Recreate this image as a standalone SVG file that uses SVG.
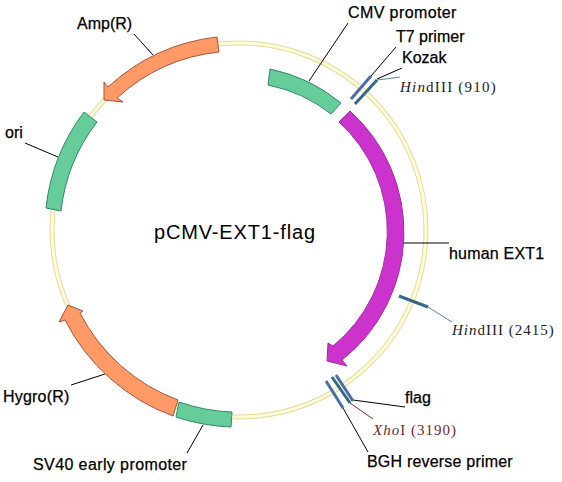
<svg xmlns="http://www.w3.org/2000/svg" width="562" height="482" viewBox="0 0 562 482">
<style>
.lab{font-family:"Liberation Sans",Arial,sans-serif;font-size:16px;fill:#000;stroke:#000;stroke-width:0.25}
.site{font-family:"Liberation Serif","Times New Roman",serif;font-size:15px}
.green{fill:#66cc99;stroke:#2f8a6c;stroke-width:1}
.orange{fill:#ff9966;stroke:#a3553f;stroke-width:1}
.lead{stroke:#000;stroke-width:1;fill:none}
.blue{stroke:#4a6ea8;stroke-width:3;fill:none}
.teal{stroke:#37688a;stroke-width:3;fill:none}
</style>
<rect width="562" height="482" fill="#fff"/>
<g id="backbone"><circle cx="239" cy="230" r="187" fill="none" stroke="#e2dc9c" stroke-width="5"/><circle cx="239" cy="230" r="187" fill="none" stroke="#fdfbd8" stroke-width="3"/></g>
<g id="connectors">
<path class="lead" d="M348 23L309 81M134 34L153 55M25 143L58 157M71 385L105 374M187 453L203 425M403 243H449M371 76L396 47M377 79L402 68M353 400L405 407M343 408L368 452"/>
<path d="M377 80Q387 79 400 77M428 307L452 322" fill="none" stroke="#4f8a9c" stroke-width="1"/>
<path d="M350 403L373 419" fill="none" stroke="#703030" stroke-width="1"/>
</g>
<g id="cmv-promoter"><path class="green" d="M270 69A164 164 0 0 1 341 103L331 114A148 148 0 0 0 268 85Z"/><text class="lab" x="348" y="18" letter-spacing="0.4">CMV promoter</text></g>
<g id="human-ext1"><path d="M350 111A163 163 0 0 1 342 360L347 366L327 361L328 343L333 346A148 148 0 0 0 339 122Z" fill="#cc33cc" stroke="#a52aa5" stroke-width="1"/><text class="lab" x="449" y="259" letter-spacing="0.2">human EXT1</text></g>
<g id="amp-r"><path class="orange" d="M217 37L219 52A179 179 0 0 0 117 98L123 102L104 100L104 82L108 87A194 194 0 0 1 217 37Z"/><text class="lab" x="77" y="29">Amp(R)</text></g>
<g id="ori"><path class="green" d="M84 112L97 122A179 179 0 0 0 61 211L46 208A194 194 0 0 1 84 112Z"/><text class="lab" x="5" y="138">ori</text></g>
<g id="hygro-r"><path class="orange" d="M178 400L173 416A197 197 0 0 1 65 320L59 322L68 305L83 311L80 313A181 181 0 0 0 178 400Z"/><text class="lab" x="3" y="402" letter-spacing="0.2">Hygro(R)</text></g>
<g id="sv40"><path class="green" d="M179 402L176 417A197 197 0 0 0 231 427L232 412A182 182 0 0 1 179 402Z"/><text class="lab" x="33" y="470" letter-spacing="0.4">SV40 early promoter</text></g>
<g id="t7-primer"><path class="blue" d="M351 99L371 76"/><text class="lab" x="396" y="42">T7 primer</text></g>
<g id="kozak"><path class="teal" d="M355 104L377 80"/><text class="lab" x="402" y="63">Kozak</text></g>
<g id="hindiii-910"><text class="site" x="400" y="92" fill="#222" letter-spacing="1.2"><tspan font-style="italic">Hin</tspan>dIII (910)</text></g>
<g id="hindiii-2415"><path class="teal" d="M399 296L428 307"/><text class="site" x="452" y="335" fill="#222" letter-spacing="1"><tspan font-style="italic">Hin</tspan>dIII (2415)</text></g>
<g id="flag"><path class="blue" d="M336 375L353 401"/><text class="lab" x="405" y="403">flag</text></g>
<g id="xhoi"><path class="teal" d="M332 377L350 403"/><text class="site" x="373" y="435" fill="#6a2a2a" letter-spacing="1"><tspan font-style="italic">Xho</tspan>I (3190)</text></g>
<g id="bgh"><path class="blue" d="M326 381L343 408"/><text class="lab" x="367" y="467" letter-spacing="0.2">BGH reverse primer</text></g>
<g id="title"><text x="154" y="239" font-family="Liberation Sans,Arial,sans-serif" font-size="20" letter-spacing="0.85" fill="#000">pCMV-EXT1-flag</text></g>
</svg>
